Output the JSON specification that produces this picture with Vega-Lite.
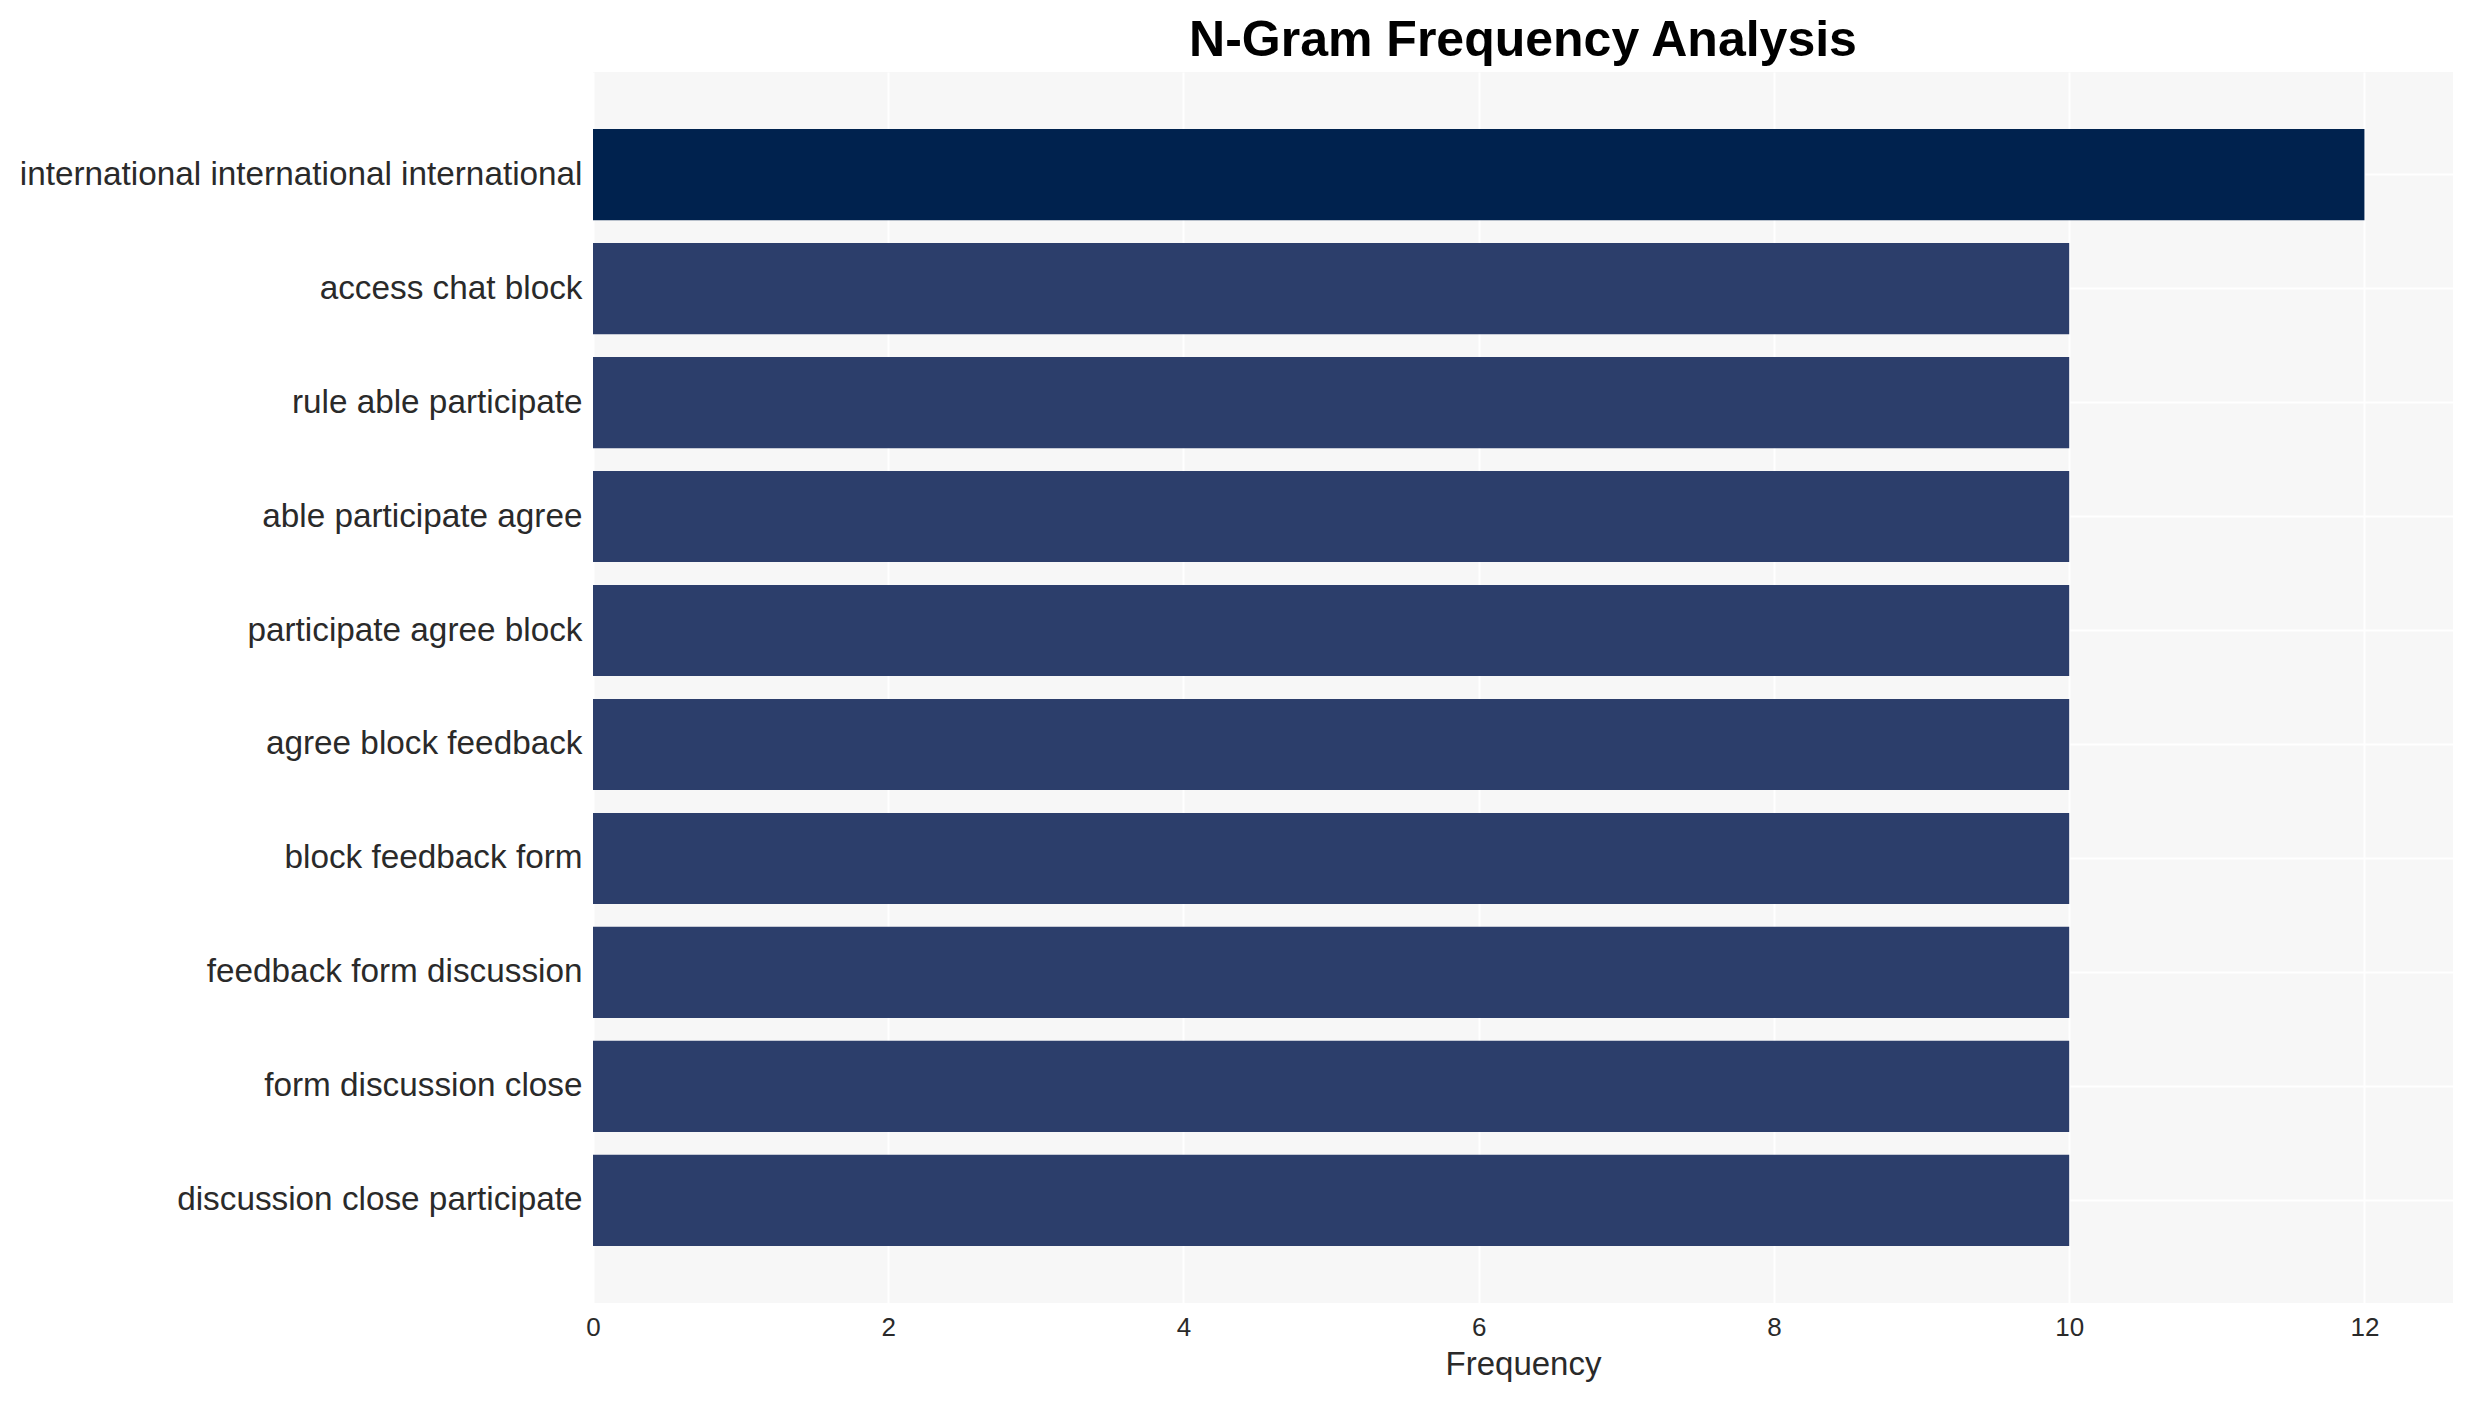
{
  "$schema": "https://vega.github.io/schema/vega-lite/v6.json",
  "autosize": {"type": "none"},
  "padding": {"left": 593, "top": 72, "right": 20, "bottom": 99},
  "width": 1860,
  "height": 1231,
  "background": "#ffffff",
  "title": {
    "text": "N-Gram Frequency Analysis",
    "font": "Liberation Sans",
    "fontSize": 50,
    "fontWeight": "bold",
    "color": "#000000",
    "anchor": "middle",
    "offset": 6
  },
  "config": {
    "view": {"fill": "#f7f7f7", "stroke": null},
    "axis": {
      "labelFont": "Liberation Sans",
      "titleFont": "Liberation Sans",
      "labelColor": "#2a2a2a",
      "titleColor": "#2a2a2a",
      "domain": false,
      "ticks": false,
      "gridColor": "#ffffff",
      "gridWidth": 2,
      "gridOpacity": 1
    }
  },
  "data": {
    "values": [
      {"ngram": "international international international", "Frequency": 12},
      {"ngram": "access chat block", "Frequency": 10},
      {"ngram": "rule able participate", "Frequency": 10},
      {"ngram": "able participate agree", "Frequency": 10},
      {"ngram": "participate agree block", "Frequency": 10},
      {"ngram": "agree block feedback", "Frequency": 10},
      {"ngram": "block feedback form", "Frequency": 10},
      {"ngram": "feedback form discussion", "Frequency": 10},
      {"ngram": "form discussion close", "Frequency": 10},
      {"ngram": "discussion close participate", "Frequency": 10}
    ]
  },
  "mark": {"type": "bar"},
  "encoding": {
    "y": {
      "field": "ngram",
      "type": "nominal",
      "sort": null,
      "scale": {"paddingInner": 0.2, "paddingOuter": 0.5},
      "axis": {
        "title": null,
        "labelFontSize": 33.3,
        "labelPadding": 11,
        "labelLimit": 1000,
        "grid": true,
        "bandPosition": 0.5
      }
    },
    "x": {
      "field": "Frequency",
      "type": "quantitative",
      "scale": {"domain": [0, 12.6], "nice": false},
      "axis": {
        "title": "Frequency",
        "values": [0, 2, 4, 6, 8, 10, 12],
        "labelFontSize": 26,
        "labelPadding": 11,
        "labelFlush": false,
        "titleFontSize": 33,
        "titleFontWeight": "normal",
        "titlePadding": 8,
        "grid": true
      }
    },
    "color": {
      "field": "Frequency",
      "type": "ordinal",
      "scale": {"domain": [10, 12], "range": ["#2c3e6b", "#00224e"]},
      "legend": null
    }
  }
}
